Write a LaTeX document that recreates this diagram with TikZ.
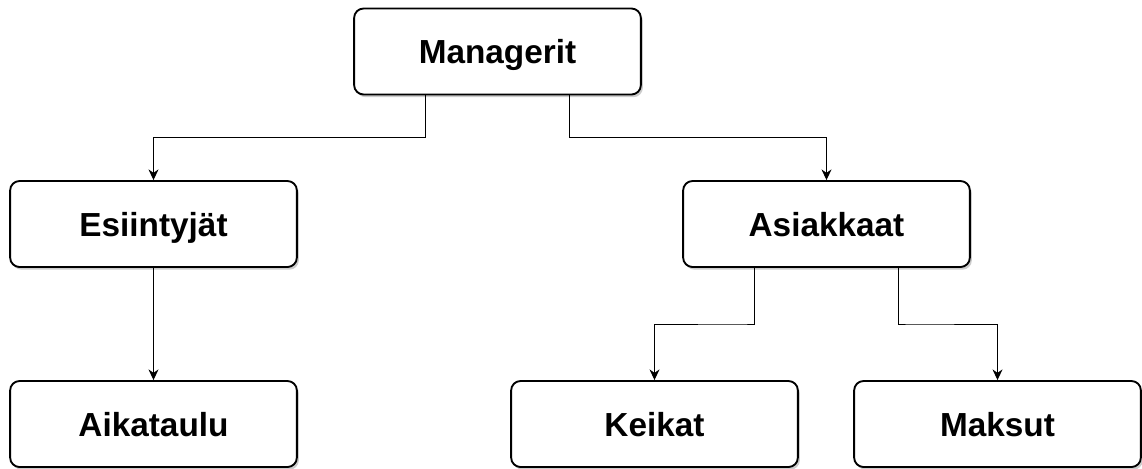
\documentclass[tikz,border=0pt]{standalone}
\usepackage{fontspec}
\setmainfont{Liberation Sans}
\usetikzlibrary{calc}
\usetikzlibrary{arrows.meta}
\usetikzlibrary{shadows}

\tikzset{
  box/.style={draw=black, line width=1.4pt, rounded corners=7pt, fill=white,
    minimum width=215pt, minimum height=64.5pt, inner sep=0pt,
    text height=18pt, text depth=0pt,
    font=\fontsize{25}{30}\selectfont\bfseries,
    drop shadow={shadow xshift=1.5pt, shadow yshift=-2pt, fill=black, opacity=.2}},
  link/.style={draw=black, line width=.75pt, -{Stealth[length=8pt,width=7.5pt]}}
}

\begin{document}
\begin{tikzpicture}[x=.75pt, y=-.75pt]

\useasboundingbox (0,0) rectangle (1142,468);

\node[box] (man) at (497.5,51.5) {Managerit};
\node[box] (esi) at (153.5,224) {Esiintyjät};
\node[box] (asi) at (826.5,224) {Asiakkaat};
\node[box] (aik) at (153.5,424) {Aikataulu};
\node[box] (kei) at (654.5,424) {Keikat};
\node[box] (mak) at (997.5,424) {Maksut};

\foreach \src/\pos/\dst in {man/.25/esi, man/.75/asi, esi/.5/aik, asi/.25/kei, asi/.75/mak} {
 \draw[link] ($(\src.south west)!\pos!(\src.south east)$) |- ($(\src.south)!.5!(\dst.north)$) -| (\dst.north);
};

\end{tikzpicture}
\end{document}
